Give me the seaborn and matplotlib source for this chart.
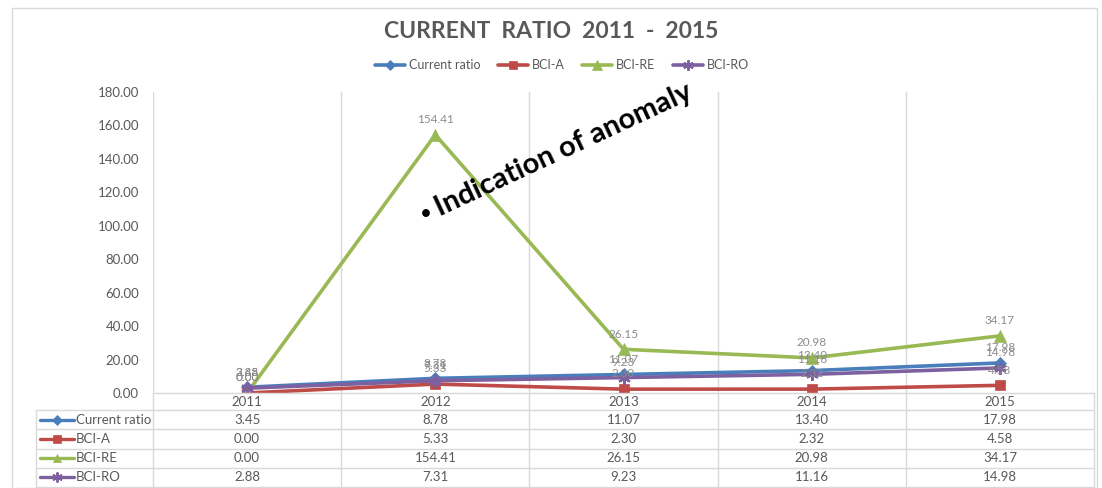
import pandas as pd
import seaborn as sns
import matplotlib.pyplot as plt
from matplotlib.lines import Line2D
from matplotlib.patches import Rectangle

# chart data
years = ["2011", "2012", "2013", "2014", "2015"]
current_ratio = [3.45, 8.78, 11.07, 13.40, 17.98]
bci_a = [0.00, 5.33, 2.30, 2.32, 4.58]
bci_re = [0.00, 154.41, 26.15, 20.98, 34.17]
bci_ro = [2.88, 7.31, 9.23, 11.16, 14.98]
series_names = ["Current ratio", "BCI-A", "BCI-RE", "BCI-RO"]
y_ticks = [0, 20, 40, 60, 80, 100, 120, 140, 160, 180]

values = [current_ratio, bci_a, bci_re, bci_ro]
colors = ["#4A7EBB", "#BE4B48", "#98B954", "#7D60A0"]
markers = ["D", "s", "^", (6, 2, 0)]
msizes = [6, 7.5, 8, 9]

df = pd.DataFrame({
    "x": list(range(len(years))) * len(series_names),
    "value": sum(values, []),
    "series": [s for s in series_names for _ in years],
})

sns.set_style("white")
plt.rcParams["font.family"] = ["Lato", "DejaVu Sans"]

fig = plt.figure(figsize=(11.02, 4.88), dpi=100)
W, H = 1102, 488

# outer chart border
fig.patches.append(Rectangle((12 / W, 0.0), 1085 / W, 1 - 8 / H, transform=fig.transFigure,
                             fill=False, edgecolor="#d9d9d9", lw=1))

ax = fig.add_axes([153 / W, 1 - 393 / H, 941 / W, 301 / H])
grid_c = "#d9d9d9"

handles = []
for name, col, mk, ms in zip(series_names, colors, markers, msizes):
    sub = df[df["series"] == name]
    sns.lineplot(data=sub, x="x", y="value", ax=ax, color=col, lw=2.6,
                 marker=mk, markersize=ms, markeredgecolor=col,
                 markeredgewidth=1.6 if mk == (6, 2, 0) else 0.5, label=name, zorder=3)
    for xi, v in zip(sub["x"], sub["value"]):
        ax.annotate(f"{v:.2f}", (xi, v), xytext=(0, 7), textcoords="offset points",
                    ha="center", va="bottom", fontsize=8.5, color="#8c8c8c", zorder=4)
    handles.append(Line2D([], [], color=col, lw=2.6, marker=mk, markersize=ms * 0.85,
                          markeredgecolor=col, markeredgewidth=1.4 if mk == (6, 2, 0) else 0.5))

ax.get_legend().remove()
ax.set_xlim(-0.5, 4.5)
ax.set_ylim(0, 180)
ax.set_yticks(y_ticks)
ax.set_yticklabels([f"{t:.2f}" for t in y_ticks], fontsize=9.5, color="#595959")
ax.tick_params(axis="y", length=0, pad=10)
ax.set_xticks([])
ax.set_xlabel("")
ax.set_ylabel("")
for sp in ["top", "right", "left"]:
    ax.spines[sp].set_visible(False)
ax.spines["bottom"].set_color(grid_c)
for xb in [-0.5, 0.5, 1.5, 2.5, 3.5, 4.5]:
    ax.axvline(xb, color=grid_c, lw=1, zorder=0)

# data table below the plot
tax = fig.add_axes([36 / W, 1 / H, 1058 / W, 94 / H])
left_x = -0.5 - 117 / 188.2
tax.set_xlim(left_x, 4.5)
row_edges = [0, 0.9, 1.9, 2.9, 3.9, 4.9]
tax.set_ylim(row_edges[-1], 0)
tax.axis("off")
for xb in [-0.5, 0.5, 1.5, 2.5, 3.5, 4.5]:
    tax.plot([xb, xb], [0, row_edges[-1]], color=grid_c, lw=1, clip_on=False)
tax.plot([left_x, left_x], [row_edges[1], row_edges[-1]], color=grid_c, lw=1, clip_on=False)
for i, yb in enumerate(row_edges):
    tax.plot([left_x if i >= 1 else -0.5, 4.5], [yb, yb], color=grid_c, lw=1, clip_on=False)
for i, yr in enumerate(years):
    tax.text(i, (row_edges[0] + row_edges[1]) / 2, yr, ha="center", va="center",
             fontsize=9.5, color="#595959")
for r, (name, vals, col, mk, ms) in enumerate(zip(series_names, values, colors, markers, msizes)):
    yc = (row_edges[r + 1] + row_edges[r + 2]) / 2
    tax.plot([left_x + 0.02, left_x + 0.2], [yc, yc], color=col, lw=2.4)
    tax.plot([left_x + 0.11], [yc], color=col, marker=mk, markersize=ms * 0.8,
             markeredgecolor=col, markeredgewidth=1.4 if mk == (6, 2, 0) else 0.5)
    tax.text(left_x + 0.21, yc, name, ha="left", va="center", fontsize=9.5, color="#595959")
    for i, v in enumerate(vals):
        tax.text(i, yc, f"{v:.2f}", ha="center", va="center", fontsize=9.5, color="#595959")

# title and legend
fig.text(0.5, 1 - 32 / H, "CURRENT  RATIO  2011  -  2015",
         ha="center", va="center", fontsize=16.5, fontweight="bold", color="#595959")
fig.legend(handles, series_names, loc="center", bbox_to_anchor=(0.51, 1 - 65 / H), ncol=4,
           frameon=False, fontsize=9, labelcolor="#595959", handlelength=2.4,
           columnspacing=1.4, handletextpad=0.3)

# anomaly annotation
fig.text(420 / W, 1 - 220 / H, "\u2022", fontsize=15, color="black",
         ha="left", va="baseline")
fig.text(440 / W, 1 - 216 / H, "Indication of anomaly", rotation=25,
         rotation_mode="anchor", ha="left", va="baseline", fontsize=21,
         color="black", fontweight="bold")

fig.savefig("out.png", dpi=100)
